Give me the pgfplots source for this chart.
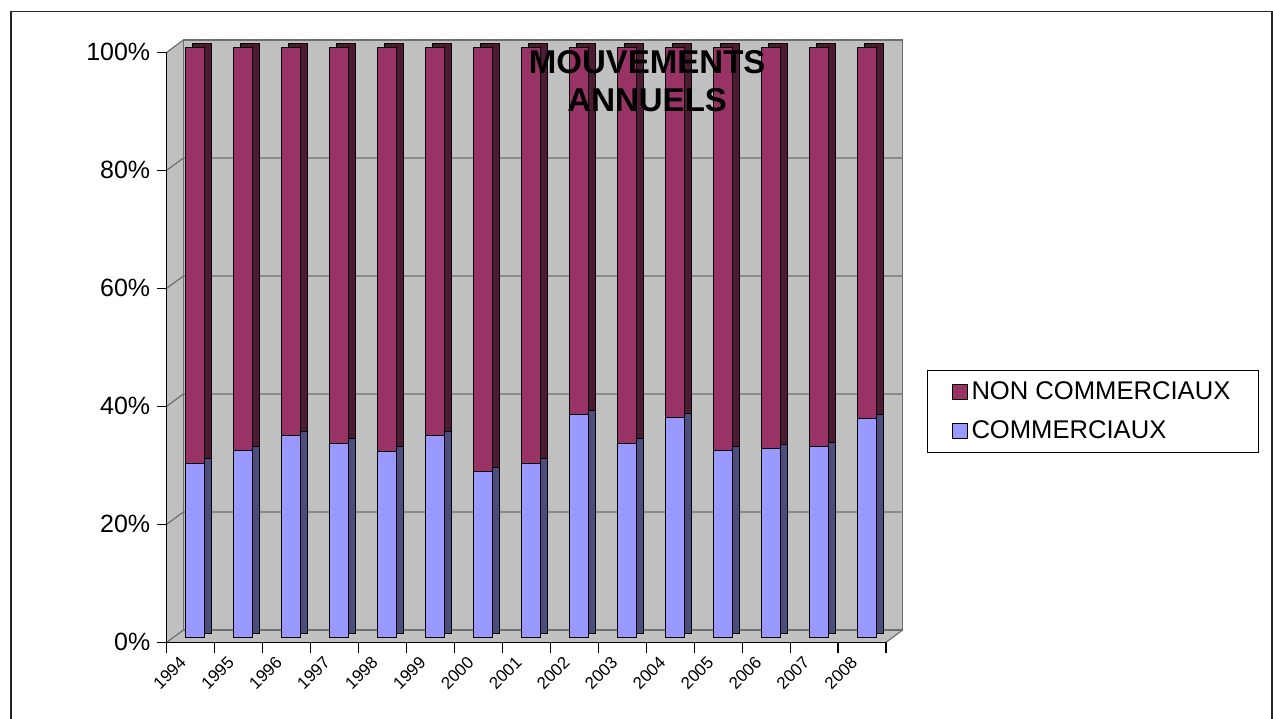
\documentclass[border=0pt]{standalone}
\usepackage{fontspec}
\setmainfont{Liberation Sans}
\usepackage{pgfplots}
\usepackage{pgfplotstable}
\pgfplotsset{compat=1.18}

\definecolor{nonc}{RGB}{153,51,102}
\definecolor{nonside}{RGB}{77,26,51}
\definecolor{comc}{RGB}{153,153,255}
\definecolor{comside}{RGB}{77,77,128}
\definecolor{wall}{RGB}{192,192,192}
\definecolor{wallline}{RGB}{110,110,110}

% parts in % of the yearly movements
\pgfplotstableread{
year com non
1994 29.6 70.4
1995 31.7 68.3
1996 34.3 65.7
1997 33.0 67.0
1998 31.6 68.4
1999 34.3 65.7
2000 28.1 71.9
2001 29.6 70.4
2002 37.8 62.2
2003 33.0 67.0
2004 37.3 62.7
2005 31.7 68.3
2006 32.1 67.9
2007 32.4 67.6
2008 37.1 62.9
}\mouv

\begin{document}
\begin{tikzpicture}
\useasboundingbox (0,0) rectangle (636.5pt,359pt);
% outer frame
\draw[line width=0.8pt, black!85] (5.35pt,-5pt) -- (5.35pt,353.15pt) -- (636pt,353.15pt) -- (636pt,-5pt);
% 3d walls
\fill[wall] (83.35pt,37.85pt) -- (83.35pt,332.85pt) -- (91.7pt,339pt) -- (451.35pt,339pt) -- (451.35pt,44pt) -- (443pt,37.85pt) -- cycle;
\draw[wallline, line width=0.6pt] (91.7pt,44pt) rectangle (451.35pt,339pt);
\draw[wallline, line width=0.6pt] (83.35pt,332.85pt) -- (91.7pt,339pt);
\draw[wallline, line width=0.6pt] (83.35pt,37.85pt) -- (91.7pt,44pt);
\draw[wallline, line width=0.6pt] (443pt,37.85pt) -- (451.35pt,44pt);
\foreach \v in {20,40,60,80} {
  \draw[wallline, line width=0.6pt] (83.35pt,{(37.85+2.95*\v)*1pt}) -- (91.7pt,{(44+2.95*\v)*1pt}) -- (451.35pt,{(44+2.95*\v)*1pt});
}

\begin{axis}[
    at={(83.35pt,37.85pt)}, anchor=south west,
    scale only axis, width=359.65pt, height=295pt,
    xmin=-0.5, xmax=14.5, ymin=0, ymax=100,
    clip=false,
    axis x line*=bottom, axis y line*=left,
    axis line style={-, black, line width=0.6pt},
    tick align=outside,
    major tick length=4.7pt,
    minor tick length=5.5pt,
    ytick={0,20,...,100},
    yticklabel={\pgfmathprintnumber{\tick}\%},
    /pgf/number format/assume math mode=true,
    yticklabel style={font=\fontsize{12.5}{15}\selectfont},
    ytick style={black, line width=0.6pt},
    xtick={-0.25,0.75,1.75,2.75,3.75,4.75,5.75,6.75,7.75,8.75,9.75,10.75,11.75,12.75,13.75},
    xticklabels={1994,1995,1996,1997,1998,1999,2000,2001,2002,2003,2004,2005,2006,2007,2008},
    minor xtick={-0.5,0.5,...,14.5},
    major x tick style={draw=none},
    minor x tick style={black, line width=0.6pt},
    xticklabel style={rotate=45, anchor=north east, inner sep=0pt, font=\fontsize{8.5}{10}\selectfont},
    xticklabel shift=1.5pt,
    title={MOUVEMENTS\\ANNUELS},
    title style={at={(0.668,0.931)}, anchor=center, align=center, font=\bfseries\fontsize{16.5}{19}\selectfont},
    legend image code/.code={\draw[#1, line width=0.5pt] (0pt,-3.75pt) rectangle (7.5pt,3.75pt);},
    legend style={at={(1.057,0.4615)}, anchor=north west, draw=black, line width=0.5pt,
        font=\fontsize{12.8}{15}\selectfont, row sep=5pt, inner xsep=12pt, inner ysep=3.5pt,
        cells={anchor=west}},
]
% side faces (behind)
\addplot[ybar, bar width=9.5pt, bar shift=5.75pt, yshift=4.45pt, fill=nonside, draw=black, line width=0.5pt, forget plot]
    table[x expr=\coordindex, y expr=\thisrow{com}+\thisrow{non}] {\mouv};
\addplot[ybar, bar width=9.5pt, bar shift=5.75pt, yshift=4.45pt, fill=comside, draw=black, line width=0.5pt, forget plot]
    table[x expr=\coordindex, y=com] {\mouv};
% front faces
\addplot[ybar, bar width=9.5pt, bar shift=2.4pt, yshift=2.3pt, fill=nonc, draw=black, line width=0.5pt, forget plot]
    table[x expr=\coordindex, y expr=\thisrow{com}+\thisrow{non}] {\mouv};
\addplot[ybar, bar width=9.5pt, bar shift=2.4pt, yshift=2.3pt, fill=comc, draw=black, line width=0.5pt, forget plot]
    table[x expr=\coordindex, y=com] {\mouv};

\addlegendimage{fill=nonc, draw=black}
\addlegendentry{NON COMMERCIAUX}
\addlegendimage{fill=comc, draw=black}
\addlegendentry{COMMERCIAUX}
\end{axis}
\end{tikzpicture}
\end{document}
